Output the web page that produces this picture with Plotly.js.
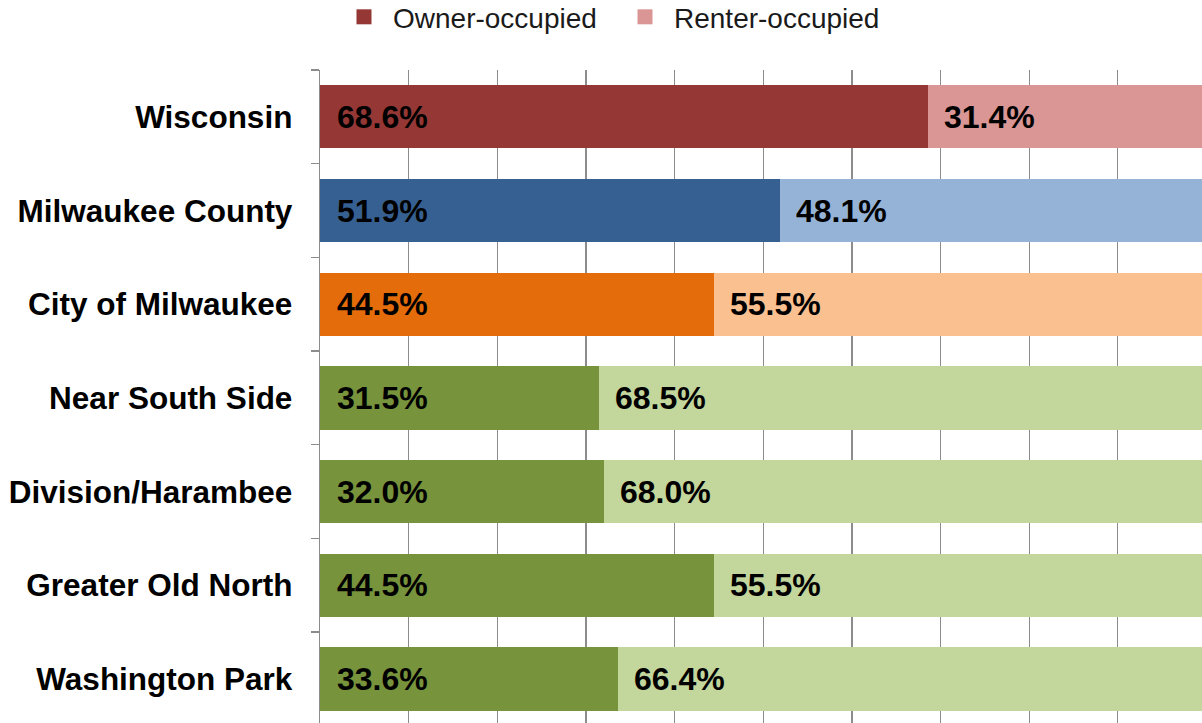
<!DOCTYPE html>
<html>
<head>
<meta charset="utf-8">
<script src="https://cdn.plot.ly/plotly-3.0.1.min.js"></script>
<style>
html,body{margin:0;padding:0;background:#fff;}
#chart{width:1202px;height:723px;}
</style>
</head>
<body>
<div id="chart"></div>
<script>
var categories = ['Wisconsin','Milwaukee County','City of Milwaukee','Near South Side','Division/Harambee','Greater Old North','Washington Park'];
var ownerValues = [68.6, 51.9, 44.5, 31.5, 32.0, 44.5, 33.6];
var renterValues = [31.4, 48.1, 55.5, 68.5, 68.0, 55.5, 66.4];
var ownerColors = ['#953735','#376092','#E46C0A','#77933C','#77933C','#77933C','#77933C'];
var renterColors = ['#D99694','#95B3D7','#FAC090','#C3D69B','#C3D69B','#C3D69B','#C3D69B'];
var seriesNames = ['Owner-occupied','Renter-occupied'];

var FONT = 'Liberation Sans, Arial, sans-serif';

var traces = [
  {type:'bar', orientation:'h', y:categories, x:ownerValues, name:seriesNames[0],
   marker:{color:ownerColors}, width:0.675, showlegend:false, hoverinfo:'x+y'},
  {type:'bar', orientation:'h', y:categories, x:renterValues, name:seriesNames[1],
   marker:{color:renterColors}, width:0.675, showlegend:false, hoverinfo:'x+y'},
  {type:'scatter', mode:'markers', x:[null], y:[null], name:seriesNames[0],
   marker:{symbol:'square', size:15, color:ownerColors[0]}},
  {type:'scatter', mode:'markers', x:[null], y:[null], name:seriesNames[1],
   marker:{symbol:'square', size:15, color:renterColors[0]}}
];

var labelFont = {family:FONT, size:32, color:'#000000', weight:'bold'};
var annotations = [];
categories.forEach(function(c, i){
  annotations.push({x:0, y:c, xref:'x', yref:'y', text:ownerValues[i].toFixed(1)+'%',
    xanchor:'left', yanchor:'middle', xshift:15, showarrow:false, font:labelFont});
  annotations.push({x:ownerValues[i], y:c, xref:'x', yref:'y', text:renterValues[i].toFixed(1)+'%',
    xanchor:'left', yanchor:'middle', xshift:14, showarrow:false, font:labelFont});
});

var layout = {
  width:1202, height:723,
  margin:{l:320, r:0, t:70, b:0, autoexpand:false},
  paper_bgcolor:'#ffffff', plot_bgcolor:'#ffffff',
  barmode:'stack',
  showlegend:true,
  legend:{orientation:'h', traceorder:'normal', x:0.017, xanchor:'left', y:1.081, yanchor:'middle',
    font:{family:FONT, size:28, color:'#1a1a1a'}, itemwidth:48, entrywidth:218, itemclick:false},
  xaxis:{range:[0,99.5], dtick:10, tick0:0, showgrid:true, gridcolor:'#8c8c8c', gridwidth:1.3,
    showticklabels:false, zeroline:false, showline:false, ticks:'', fixedrange:true},
  yaxis:{range:[6.47,-0.5], type:'category', tickson:'boundaries', ticks:'outside', ticklen:8,
    tickcolor:'#8c8c8c', tickwidth:1.3, showline:true, linecolor:'#8c8c8c', linewidth:1.3,
    showgrid:false, automargin:false, ticklabelstandoff:20,
    tickfont:{family:FONT, size:31.5, color:'#000000', weight:'bold'}, fixedrange:true},
  annotations:annotations,
  font:{family:FONT}
};

Plotly.newPlot('chart', traces, layout, {displayModeBar:false, staticPlot:true});
</script>
</body>
</html>
